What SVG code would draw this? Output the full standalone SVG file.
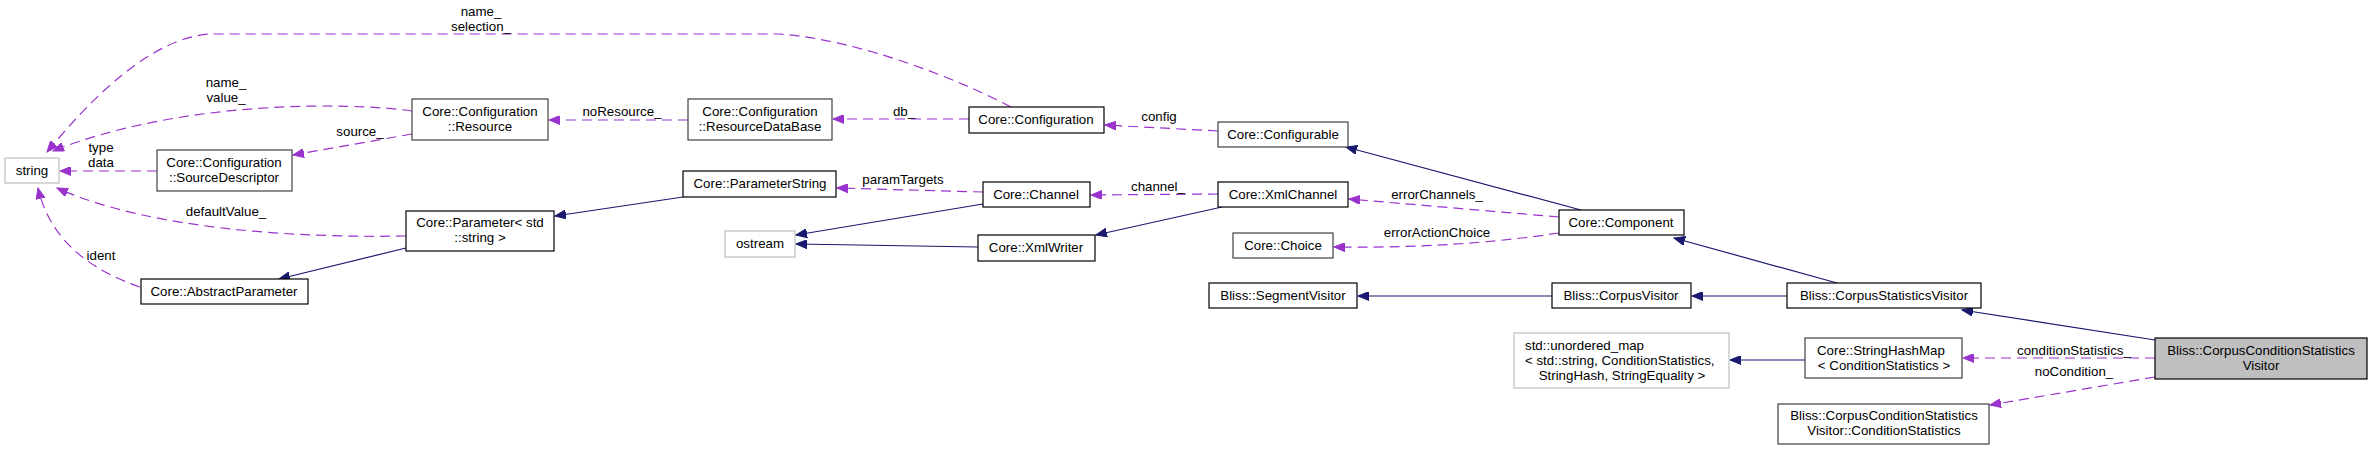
<svg xmlns="http://www.w3.org/2000/svg" width="2372" height="450" viewBox="0 0 2372 450">
<defs>
<marker id="an" markerUnits="userSpaceOnUse" markerWidth="12" markerHeight="9" refX="11" refY="4.5" orient="auto"><path d="M0,0 L11,4.5 L0,9 z" fill="#191970" stroke="#191970" stroke-width="1"/></marker>
<marker id="ap" markerUnits="userSpaceOnUse" markerWidth="12" markerHeight="9" refX="11" refY="4.5" orient="auto"><path d="M0,0 L11,4.5 L0,9 z" fill="#9a32cd" stroke="#9a32cd" stroke-width="1"/></marker>
</defs>
<style>
text{font-family:"Liberation Sans",Arial,sans-serif;font-size:13.3px;fill:#000}
.n rect{fill:#fff;stroke:#000;stroke-width:1.2}
.n.g rect{stroke:#bfbfbf}
.n.d rect{stroke:#404040}
.n.m rect{fill:#bfbfbf}
.c{text-anchor:middle}
.inh{fill:none;stroke:#191970;stroke-width:1.2;marker-end:url(#an)}
.use{fill:none;stroke:#9a32cd;stroke-width:1.2;stroke-dasharray:10,6;marker-end:url(#ap)}
</style>
<rect width="2372" height="450" fill="#fff"/>
<g id="connectors">
<path class="use" d="M1011,107 C960,80 860,40 780,34 L210,34 C150,38 90,100 47,152"/>
<path class="use" d="M412,111 C350,102 180,100 53,151"/>
<path class="use" d="M157,171 L60,171"/>
<path class="use" d="M412,134 L293,155"/>
<path class="use" d="M406,236 C300,238 150,230 57,188"/>
<path class="use" d="M140,287 C90,270 50,240 38,188"/>
<path class="use" d="M688,120 L549,120"/>
<path class="use" d="M969,119 L833,119"/>
<path class="use" d="M1218,131 L1105,125"/>
<path class="use" d="M983,192 L837,188"/>
<path class="use" d="M1218,194 L1091,195"/>
<path class="use" d="M1559,217 L1349,199"/>
<path class="use" d="M1559,233 C1480,245 1400,248 1334,247"/>
<path class="use" d="M2155,358 L1963,358"/>
<path class="use" d="M2155,377 L1990,405"/>
<path class="inh" d="M683,197 L555,216"/>
<path class="inh" d="M406,248 L279,279"/>
<path class="inh" d="M983,204 L796,235"/>
<path class="inh" d="M978,247 L796,244"/>
<path class="inh" d="M1222,207 L1096,235"/>
<path class="inh" d="M1581,210 L1346,147"/>
<path class="inh" d="M1837,283 L1674,238"/>
<path class="inh" d="M1787,296 L1692,296"/>
<path class="inh" d="M1552,296 L1358,296"/>
<path class="inh" d="M2155,340 L1962,310"/>
<path class="inh" d="M1805,360 L1730,360"/>
<text class="c" x="481" y="16">name_</text>
<text class="c" x="481" y="31">selection_</text>
<text class="c" x="226" y="87">name_</text>
<text class="c" x="226" y="102">value_</text>
<text class="c" x="101" y="152">type</text>
<text class="c" x="101" y="167">data</text>
<text class="c" x="360" y="136">source_</text>
<text class="c" x="226" y="216">defaultValue_</text>
<text class="c" x="101" y="260">ident</text>
<text class="c" x="622" y="116">noResource_</text>
<text class="c" x="904" y="116">db_</text>
<text class="c" x="1159" y="121">config</text>
<text class="c" x="903" y="184">paramTargets</text>
<text class="c" x="1158" y="191">channel_</text>
<text class="c" x="1437" y="199">errorChannels_</text>
<text class="c" x="1437" y="237">errorActionChoice</text>
<text class="c" x="2074" y="355">conditionStatistics_</text>
<text class="c" x="2074" y="376">noCondition_</text>
</g>
<g id="n_string" class="n g"><rect x="5" y="158" width="54" height="25"/><text class="c" x="32" y="175">string</text></g>
<g id="n_resource" class="n d"><rect x="412" y="99" width="136" height="41"/><text class="c" x="480" y="116">Core::Configuration</text><text class="c" x="480" y="131">::Resource</text></g>
<g id="n_sourcedesc" class="n d"><rect x="157" y="150" width="135" height="41"/><text class="c" x="224" y="167">Core::Configuration</text><text class="c" x="224" y="182">::SourceDescriptor</text></g>
<g id="n_parameter" class="n"><rect x="406" y="211" width="148" height="40"/><text class="c" x="480" y="227">Core::Parameter&lt; std</text><text class="c" x="480" y="242">::string &gt;</text></g>
<g id="n_abstractparam" class="n"><rect x="141" y="279" width="167" height="25"/><text class="c" x="224" y="296">Core::AbstractParameter</text></g>
<g id="n_resourcedb" class="n d"><rect x="688" y="99" width="144" height="41"/><text class="c" x="760" y="116">Core::Configuration</text><text class="c" x="760" y="131">::ResourceDataBase</text></g>
<g id="n_configuration" class="n"><rect x="969" y="107" width="135" height="26"/><text class="c" x="1036" y="124">Core::Configuration</text></g>
<g id="n_paramstring" class="n"><rect x="683" y="171" width="153" height="26"/><text class="c" x="760" y="188">Core::ParameterString</text></g>
<g id="n_channel" class="n"><rect x="983" y="182" width="107" height="25"/><text class="c" x="1036" y="199">Core::Channel</text></g>
<g id="n_ostream" class="n g"><rect x="725" y="231" width="70" height="26"/><text class="c" x="760" y="248">ostream</text></g>
<g id="n_xmlwriter" class="n"><rect x="978" y="235" width="117" height="26"/><text class="c" x="1036" y="252">Core::XmlWriter</text></g>
<g id="n_configurable" class="n d"><rect x="1218" y="122" width="130" height="25"/><text class="c" x="1283" y="139">Core::Configurable</text></g>
<g id="n_xmlchannel" class="n"><rect x="1218" y="182" width="130" height="25"/><text class="c" x="1283" y="199">Core::XmlChannel</text></g>
<g id="n_choice" class="n d"><rect x="1233" y="233" width="100" height="25"/><text class="c" x="1283" y="250">Core::Choice</text></g>
<g id="n_component" class="n"><rect x="1559" y="210" width="125" height="25"/><text class="c" x="1621" y="227">Core::Component</text></g>
<g id="n_segmentvisitor" class="n"><rect x="1209" y="283" width="148" height="25"/><text class="c" x="1283" y="300">Bliss::SegmentVisitor</text></g>
<g id="n_corpusvisitor" class="n"><rect x="1552" y="283" width="139" height="25"/><text class="c" x="1621" y="300">Bliss::CorpusVisitor</text></g>
<g id="n_corpusstatsvisitor" class="n"><rect x="1787" y="283" width="194" height="25"/><text class="c" x="1884" y="300">Bliss::CorpusStatisticsVisitor</text></g>
<g id="n_unorderedmap" class="n g"><rect x="1514" y="333" width="215" height="55"/><text x="1525" y="350">std::unordered_map</text><text x="1525" y="365">&lt; std::string, ConditionStatistics,</text><text class="c" x="1622" y="380">StringHash, StringEquality &gt;</text></g>
<g id="n_stringhashmap" class="n d"><rect x="1805" y="338" width="157" height="40"/><text x="1817" y="355">Core::StringHashMap</text><text class="c" x="1884" y="370">&lt; ConditionStatistics &gt;</text></g>
<g id="n_conditionstats" class="n d"><rect x="1778" y="404" width="211" height="40"/><text class="c" x="1884" y="420">Bliss::CorpusConditionStatistics</text><text class="c" x="1884" y="435">Visitor::ConditionStatistics</text></g>
<g id="n_main" class="n m"><rect x="2155" y="338" width="212" height="41"/><text class="c" x="2261" y="355">Bliss::CorpusConditionStatistics</text><text class="c" x="2261" y="370">Visitor</text></g>
</svg>
